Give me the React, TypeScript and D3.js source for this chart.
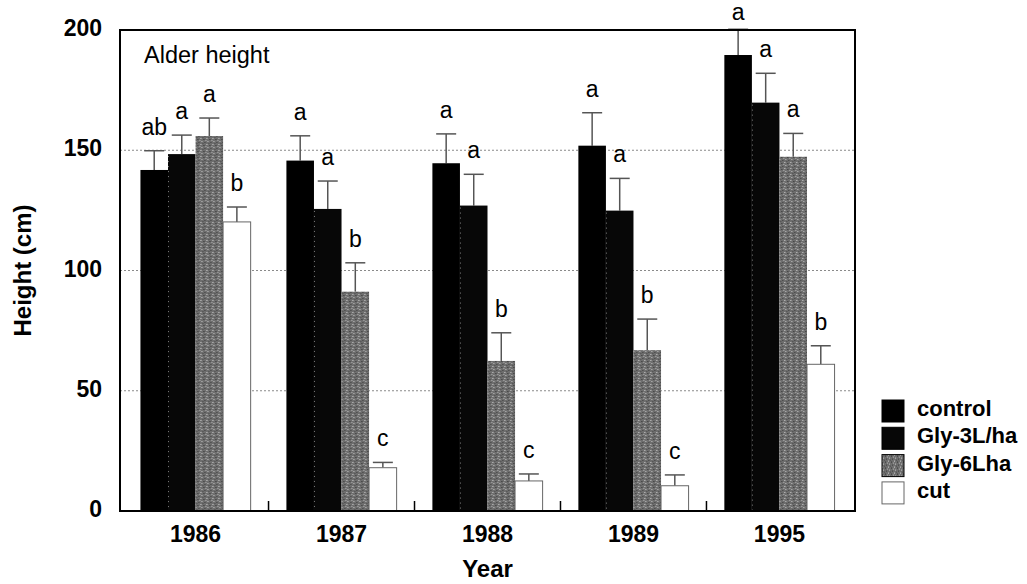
import { scaleBand, scaleLinear } from 'd3'

const years = ['1986', '1987', '1988', '1989', '1995']
const treatments = ['control', 'Gly-3L/ha', 'Gly-6Lha', 'cut']

// mean height (cm) and standard error, per year
const controlMean = [141.8, 145.7, 144.6, 151.9, 189.6]
const controlSe = [8.0, 10.3, 12.2, 13.7, 10.7]
const gly3Mean = [148.4, 125.6, 127.0, 124.9, 169.8]
const gly3Se = [7.9, 11.6, 13.0, 13.4, 12.2]
const gly6Mean = [155.9, 91.2, 62.4, 66.9, 147.3]
const gly6Se = [7.5, 12.0, 11.7, 12.9, 9.7]
const cutMean = [120.2, 18.0, 12.5, 10.5, 61.0]
const cutSe = [6.2, 2.2, 2.9, 4.5, 7.7]

// significance letters
const controlLetters = ['ab', 'a', 'a', 'a', 'a']
const gly3Letters = ['a', 'a', 'a', 'a', 'a']
const gly6Letters = ['a', 'b', 'b', 'b', 'a']
const cutLetters = ['b', 'c', 'c', 'c', 'b']

const yTicks = [0, 50, 100, 150, 200]

const means = [controlMean, gly3Mean, gly6Mean, cutMean]
const ses = [controlSe, gly3Se, gly6Se, cutSe]
const letters = [controlLetters, gly3Letters, gly6Letters, cutLetters]
const fills = ['#000', '#070707', 'url(#grayTex)', '#fff']

const W = 1027
const H = 584
const left = 120
const right = 855
const top = 30
const bottom = 511

export default function App() {
	const x = scaleBand()
		.domain(years)
		.range([left, right])
		.paddingInner(0.245)
		.paddingOuter(0.14)
	const inner = scaleBand()
		.domain(treatments)
		.range([0, x.bandwidth()])
	const y = scaleLinear().domain([0, 200]).range([bottom, top])

	const font = 'Arial, "Liberation Sans", Helvetica, sans-serif'
	const halfGap = (x.step() * x.paddingInner()) / 2

	return (
		<svg
			width={W}
			height={H}
			style={{ position: 'absolute', left: 0, top: 0, background: '#fff' }}
			fontFamily={font}
		>
			<defs>
				<pattern id='grayTex' width={6} height={6} patternUnits='userSpaceOnUse'>
					<rect width={6} height={6} fill='#6e6e6e' />
					<rect x={0} y={0} width={1} height={1} fill='#d0d0d0' />
					<rect x={3} y={1} width={1} height={1} fill='#333' />
					<rect x={1} y={3} width={1} height={1} fill='#c4c4c4' />
					<rect x={4} y={4} width={1} height={1} fill='#3c3c3c' />
					<rect x={5} y={2} width={1} height={1} fill='#b0b0b0' />
					<rect x={2} y={5} width={1} height={1} fill='#4a4a4a' />
				</pattern>
			</defs>

			{/* grid */}
			{yTicks
				.filter((t) => t > 0 && t < 200)
				.map((t) => (
					<line
						key={t}
						x1={left}
						x2={right}
						y1={y(t)}
						y2={y(t)}
						stroke='#8a8a8a'
						strokeWidth={1}
						strokeDasharray='2,2'
					/>
				))}

			{/* bars */}
			{years.map((yr, i) => (
				<g key={yr} transform={`translate(${x(yr)},0)`}>
					{treatments.map((tr, j) => {
						const v = means[j][i]
						const e = v + ses[j][i]
						const bx = inner(tr)!
						const bw = inner.bandwidth()
						const cx = bx + bw / 2
						const ly = Math.max(y(e) - 16, 20)
						return (
							<g key={tr}>
								<line x1={cx} x2={cx} y1={y(v)} y2={y(e)} stroke='#555' strokeWidth={1.5} />
								<line x1={cx - 10} x2={cx + 10} y1={y(e)} y2={y(e)} stroke='#555' strokeWidth={1.5} />
								<rect
									x={bx}
									y={y(v)}
									width={bw}
									height={y(0) - y(v)}
									fill={fills[j]}
									stroke={j === 3 ? '#666' : 'none'}
									strokeWidth={1}
								/>
								{j === 1 && (
									<line
										x1={bx + 0.5}
										x2={bx + 0.5}
										y1={y(v) + 2}
										y2={y(0)}
										stroke='#fff'
										strokeOpacity={0.5}
										strokeDasharray='1,4'
									/>
								)}
								<text x={cx} y={ly} textAnchor='middle' fontSize={23} fill='#000'>
									{letters[j][i]}
								</text>
							</g>
						)
					})}
				</g>
			))}

			{/* group boundary ticks */}
			{years.slice(1).map((yr) => (
				<line
					key={yr}
					x1={x(yr)! - halfGap}
					x2={x(yr)! - halfGap}
					y1={bottom}
					y2={bottom - 10}
					stroke='#000'
					strokeWidth={1.5}
				/>
			))}

			{/* frame */}
			<rect
				x={left}
				y={top}
				width={right - left}
				height={bottom - top}
				fill='none'
				stroke='#000'
				strokeWidth={2}
			/>

			{/* y tick labels */}
			{yTicks.map((t) => (
				<text
					key={t}
					x={102}
					y={y(t) + 6}
					textAnchor='end'
					fontSize={23}
					fontWeight='bold'
				>
					{t}
				</text>
			))}

			{/* x tick labels */}
			{years.map((yr) => (
				<text
					key={yr}
					x={x(yr)! + x.bandwidth() / 2}
					y={542}
					textAnchor='middle'
					fontSize={23}
					fontWeight='bold'
				>
					{yr}
				</text>
			))}

			<text x={144} y={63} fontSize={23.5}>
				Alder height
			</text>

			<text x={(left + right) / 2} y={577} textAnchor='middle' fontSize={24} fontWeight='bold'>
				Year
			</text>
			<text
				transform={`translate(31,${(top + bottom) / 2}) rotate(-90)`}
				textAnchor='middle'
				fontSize={24}
				fontWeight='bold'
			>
				Height (cm)
			</text>

			{/* legend */}
			{treatments.map((tr, j) => (
				<g key={tr} transform={`translate(882,${400 + j * 27.3})`}>
					<rect
						width={22}
						height={22}
						fill={fills[j]}
						stroke={j === 3 ? '#666' : '#000'}
						strokeWidth={1}
					/>
					<text x={35} y={16} fontSize={22} fontWeight='bold'>
						{tr}
					</text>
				</g>
			))}
		</svg>
	)
}
